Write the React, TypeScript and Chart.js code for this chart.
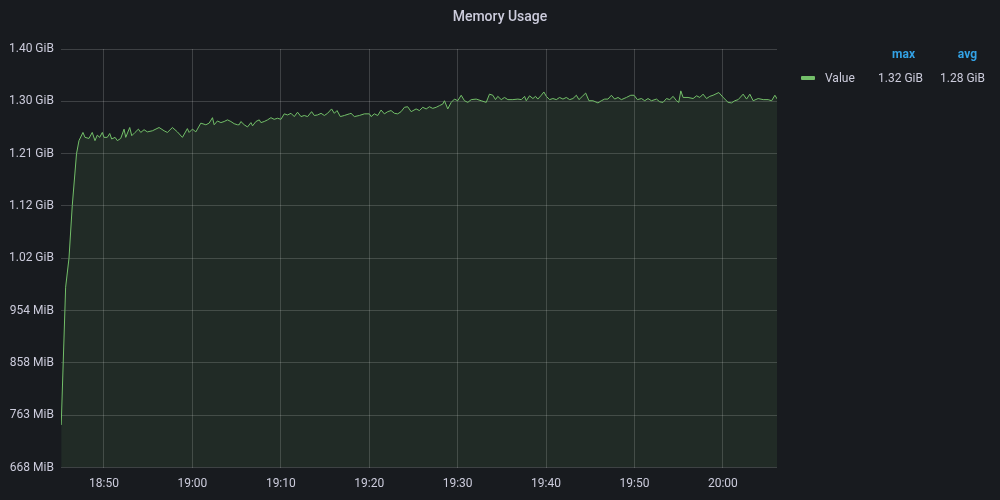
import { useEffect, useRef } from 'react';
import { Chart, registerables } from 'chart.js';

Chart.register(...registerables);

// minutes after 18:00
const times = [
  45.16, 45.66, 46.04, 46.41, 46.89, 47.17, 47.62, 47.85, 48.30, 48.67,
  48.98, 49.24, 49.51, 49.81, 50.00, 50.37, 50.65, 50.87, 51.25, 51.51,
  51.89, 52.27, 52.46, 52.91, 53.14, 53.51, 53.89, 54.16, 54.53, 54.90,
  55.47, 56.23, 56.80, 57.17, 57.74, 58.30, 58.87, 59.43, 59.63, 60.00,
  60.39, 60.95, 61.52, 61.89, 62.27, 62.46, 62.83, 63.22, 63.59, 63.97,
  64.35, 64.72, 65.10, 65.29, 65.48, 65.86, 66.23, 66.62, 66.80, 67.18,
  67.56, 67.75, 68.12, 68.50, 68.88, 69.25, 69.63, 70.01, 70.39, 70.76,
  71.15, 71.52, 71.89, 72.28, 72.65, 73.03, 73.48, 73.79, 74.16, 74.55,
  74.92, 75.29, 75.74, 76.05, 76.36, 76.73, 77.18, 77.75, 77.94, 78.32,
  78.88, 79.45, 80.02, 80.21, 80.58, 80.96, 81.34, 81.71, 82.09, 82.47,
  82.85, 83.22, 83.60, 83.98, 84.35, 84.74,
  85.30, 85.68, 86.05, 86.44, 86.81, 87.18, 87.57, 87.94, 88.32, 88.51,
  88.88, 89.27, 89.64, 90.01, 90.40, 90.77, 91.15, 91.53, 92.10, 92.66,
  93.23, 93.60, 93.98, 94.28, 94.54, 94.93, 95.30, 95.68, 96.24, 96.81,
  97.20, 97.57, 97.76, 98.13, 98.51, 98.81, 99.07, 99.46, 99.75, 100.03,
  100.40, 100.77, 101.16, 101.53, 101.91, 102.29, 102.67, 103.04, 103.43, 103.72,
  104.10, 104.48, 104.85, 105.30, 105.87, 106.25, 106.63, 107.00, 107.39, 107.76,
  108.14, 108.52, 109.09, 109.58, 109.95, 110.33, 110.79, 111.16, 111.53, 111.92,
  112.49, 112.86, 113.23, 113.62, 113.99, 114.37, 114.75, 115.01, 115.24, 115.50,
  116.06, 116.63, 117.02, 117.39, 117.76, 118.15, 118.52, 118.89, 119.54, 120.03,
  120.59, 120.98, 121.35, 121.73, 122.29, 122.68, 123.05, 123.42, 123.99, 124.56,
  125.12, 125.51, 125.88, 126.19,
];

// memory in MiB
const memMiB = [
  746, 998, 1051, 1147, 1242, 1266, 1281, 1272, 1270, 1281,
  1266, 1276, 1272, 1281, 1272, 1272, 1279, 1269, 1272, 1266,
  1270, 1287, 1272, 1290, 1275, 1281, 1287, 1281, 1286, 1282,
  1284, 1290, 1284, 1281, 1290, 1282, 1272, 1288, 1281, 1287,
  1282, 1298, 1295, 1298, 1308, 1295, 1302, 1299, 1301, 1304,
  1301, 1297, 1295, 1295, 1301, 1295, 1291, 1299, 1293, 1301,
  1304, 1299, 1301, 1304, 1308, 1305, 1307, 1305, 1315, 1313,
  1316, 1310, 1318, 1310, 1312, 1310, 1319, 1312, 1313, 1316,
  1312, 1316, 1324, 1316, 1321, 1310, 1312, 1315, 1316, 1310,
  1312, 1315, 1315, 1310, 1315, 1312, 1322, 1315, 1319, 1321,
  1316, 1315, 1319, 1327, 1328, 1319,
  1324, 1321, 1327, 1324, 1328, 1325, 1327, 1330, 1333, 1339,
  1324, 1336, 1342, 1339, 1349, 1339, 1336, 1341, 1342, 1339,
  1336, 1351, 1349, 1341, 1347, 1341, 1345, 1341, 1341, 1342,
  1341, 1347, 1339, 1348, 1343, 1347, 1342, 1349, 1355, 1347,
  1341, 1343, 1341, 1345, 1342, 1345, 1341, 1343, 1349, 1341,
  1347, 1353, 1339, 1339, 1335, 1339, 1342, 1342, 1349, 1342,
  1345, 1341, 1345, 1349, 1349, 1341, 1343, 1339, 1343, 1339,
  1342, 1337, 1336, 1343, 1341, 1347, 1339, 1336, 1357, 1345,
  1345, 1343, 1348, 1345, 1351, 1343, 1347, 1349, 1354, 1345,
  1336, 1335, 1339, 1341, 1351, 1342, 1351, 1339, 1343, 1341,
  1341, 1339, 1349, 1341,
];

const yTickLabels = ['668 MiB', '763 MiB', '858 MiB', '954 MiB', '1.02 GiB', '1.12 GiB', '1.21 GiB', '1.30 GiB', '1.40 GiB'];
const xTickMinutes = [50, 60, 70, 80, 90, 100, 110, 120];
const xTickLabels = ['18:50', '19:00', '19:10', '19:20', '19:30', '19:40', '19:50', '20:00'];

const titleText = 'Memory Usage';
const seriesName = 'Value';
const legendHeaders = ['max', 'avg'];
const legendValues = ['1.32 GiB', '1.28 GiB'];

const Y_MIN = 668;
const Y_MAX = 1433.6;
const X_MIN = 45.13;
const X_MAX = 126.12;

const BG = '#181b1f';
const TEXT = 'rgb(204, 204, 220)';
const GRID = 'rgba(255, 255, 255, 0.17)';
const LINE = '#73bf69';
const FONT = 'Roboto';

export default function App() {
  const canvasRef = useRef<HTMLCanvasElement | null>(null);

  useEffect(() => {
    const canvas = canvasRef.current;
    if (!canvas) return;
    const points = times.map((t, i) => ({ x: t, y: memMiB[i] }));
    const chart = new Chart(canvas, {
      type: 'line',
      data: {
        datasets: [
          {
            label: seriesName,
            data: points,
            borderColor: LINE,
            borderWidth: 1,
            backgroundColor: 'rgba(115, 191, 105, 0.1)',
            fill: 'start',
            pointRadius: 0,
            tension: 0,
          },
        ],
      },
      options: {
        animation: false,
        responsive: false,
        maintainAspectRatio: false,
        layout: { padding: { left: 2, top: 49, right: 223, bottom: 0 } },
        plugins: {
          legend: { display: false },
          title: { display: false },
          tooltip: { enabled: false },
        },
        scales: {
          x: {
            type: 'linear',
            min: X_MIN,
            max: X_MAX,
            border: { display: false },
            grid: { drawTicks: false, color: GRID },
            afterBuildTicks: (scale: any) => {
              scale.ticks = xTickMinutes.map((v) => ({ value: v }));
            },
            ticks: {
              autoSkip: false,
              maxRotation: 0,
              padding: 9,
              color: TEXT,
              font: { family: FONT, size: 12 },
              callback: (v: any) => {
                const i = xTickMinutes.indexOf(v);
                return i >= 0 ? xTickLabels[i] : '';
              },
            },
          },
          y: {
            type: 'linear',
            min: Y_MIN,
            max: Y_MAX,
            border: { display: false },
            grid: { drawTicks: false, color: GRID },
            ticks: {
              stepSize: (Y_MAX - Y_MIN) / 8,
              autoSkip: false,
              padding: 7,
              color: TEXT,
              font: { family: FONT, size: 12 },
              callback: (_v: any, i: number) => yTickLabels[i] ?? '',
            },
          },
        },
      },
    });
    return () => chart.destroy();
  }, []);

  const legendText: React.CSSProperties = {
    position: 'absolute',
    fontFamily: FONT,
    fontSize: 12,
    color: TEXT,
    whiteSpace: 'nowrap',
    lineHeight: '14px',
  };

  return (
    <div style={{ position: 'fixed', left: 0, top: 0, width: 1000, height: 500, background: BG, overflow: 'hidden' }}>
      <canvas ref={canvasRef} width={1000} height={500} style={{ position: 'absolute', left: 0, top: 0, width: 1000, height: 500 }} />
      <div
        style={{
          position: 'absolute',
          left: 0,
          top: 7,
          width: 1000,
          textAlign: 'center',
          fontFamily: FONT,
          fontSize: 14,
          fontWeight: 500,
          color: TEXT,
          lineHeight: '18px',
        }}
      >
        {titleText}
      </div>
      <div style={{ position: 'absolute', left: 801, top: 76, width: 14, height: 4, background: LINE, borderRadius: 1 }} />
      <div style={{ ...legendText, left: 825, top: 71 }}>{seriesName}</div>
      <div style={{ ...legendText, right: 1000 - 915, top: 47, color: '#33a2e5', fontWeight: 700 }}>{legendHeaders[0]}</div>
      <div style={{ ...legendText, right: 1000 - 977, top: 47, color: '#33a2e5', fontWeight: 700 }}>{legendHeaders[1]}</div>
      <div style={{ ...legendText, right: 1000 - 923, top: 71 }}>{legendValues[0]}</div>
      <div style={{ ...legendText, right: 1000 - 985, top: 71 }}>{legendValues[1]}</div>
    </div>
  );
}
